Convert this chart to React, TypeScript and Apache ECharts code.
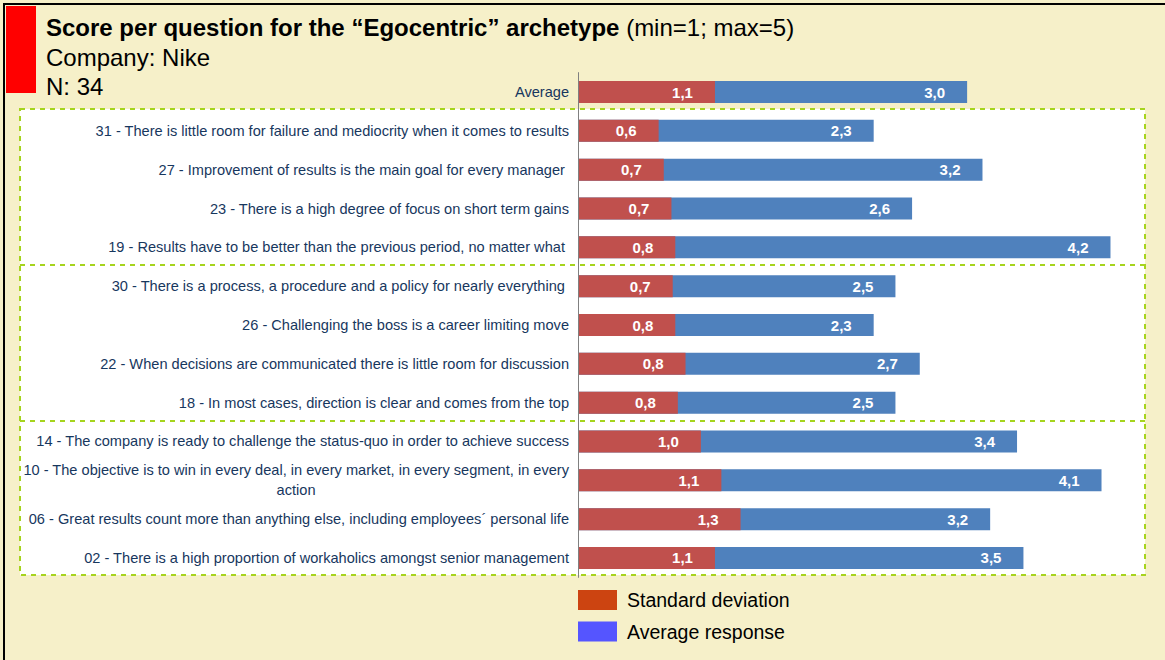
import React, { useEffect, useRef } from 'react';
import * as echarts from 'echarts';

const categories: string[] = [
  'Average',
  '31 - There is little room for failure and mediocrity when it comes to results',
  '27 - Improvement of results is the main goal for every manager ',
  '23 - There is a high degree of focus on short term gains',
  '19 - Results have to be better than the previous period, no matter what ',
  '30 - There is a process, a procedure and a policy for nearly everything ',
  '26 - Challenging the boss is a career limiting move',
  '22 - When decisions are communicated there is little room for discussion',
  '18 - In most cases, direction is clear and comes from the top',
  '14 - The company is ready to challenge the status-quo in order to achieve success',
  '10 - The objective is to win in every deal, in every market, in every segment, in every\naction',
  '06 - Great results count more than anything else, including employees´ personal life',
  '02 - There is a high proportion of workaholics amongst senior management',
];

const averageResponse: number[] = [3.04, 2.31, 3.16, 2.61, 4.16, 2.48, 2.31, 2.67, 2.48, 3.43, 4.09, 3.22, 3.48];
const standardDeviation: number[] = [1.07, 0.63, 0.67, 0.73, 0.76, 0.74, 0.76, 0.84, 0.78, 0.96, 1.12, 1.27, 1.07];

const seriesNames = { sd: 'Standard deviation', avg: 'Average response' };
const titleBold = 'Score per question for the “Egocentric” archetype';
const titleRest = ' (min=1; max=5)';
const subtitle1 = 'Company: Nike';
const subtitle2 = 'N: 34';

export default function App() {
  const ref = useRef<HTMLDivElement>(null);
  useEffect(() => {
    document.body.style.margin = '0';
    const chart = echarts.init(ref.current!, null, { renderer: 'svg' });
    const fmt = (p: any) => Number(p.value).toFixed(1).replace('.', ',');
    const sans = "'Liberation Sans', Arial, sans-serif";
    const labelColor = '#17375E';
    const green = '#A6D41E';
    const catSize = 14.6;
    const valueLabel = {
      show: true,
      position: 'insideRight',
      distance: 22,
      color: '#FFFFFF',
      fontWeight: 'bold',
      fontSize: 15,
      fontFamily: sans,
      formatter: fmt,
    };
    chart.setOption({
      animation: false,
      backgroundColor: '#F6F0C9',
      textStyle: { fontFamily: sans },
      grid: { left: 578, width: 576, top: 72.6, height: 504.8 },
      xAxis: { type: 'value', min: 0, max: 4.5, show: false },
      yAxis: {
        type: 'category',
        inverse: true,
        data: categories,
        z: 3,
        axisLine: { lineStyle: { color: '#808080', width: 1 } },
        axisTick: { show: false },
        splitLine: { show: false },
        axisLabel: {
          margin: 9,
          color: labelColor,
          fontFamily: sans,
          fontSize: catSize,
          formatter: (v: string) => {
            const lines = v.split('\n');
            if (lines.length === 1) return '{a|' + v + '}';
            return '{a|' + lines[0] + '}\n{c|' + lines[1] + '}';
          },
          rich: {
            a: { color: labelColor, fontFamily: sans, fontSize: catSize, lineHeight: 20 },
            c: { color: labelColor, fontFamily: sans, fontSize: catSize, lineHeight: 20, width: 540, align: 'center' },
          },
        },
      },
      legend: {
        orient: 'vertical',
        left: 578,
        top: 590,
        padding: 0,
        itemWidth: 39,
        itemHeight: 20,
        itemGap: 11.5,
        icon: 'rect',
        selectedMode: false,
        textStyle: { fontSize: 19.5, color: '#000000', fontFamily: sans, padding: [0, 0, 0, 5] },
        data: [
          { name: seriesNames.sd, itemStyle: { color: '#CC4411' } },
          { name: seriesNames.avg, itemStyle: { color: '#5555FF' } },
        ],
      },
      series: [
        {
          name: seriesNames.avg,
          type: 'bar',
          data: averageResponse,
          barWidth: 22,
          barGap: '-100%',
          itemStyle: { color: '#4F81BD' },
          label: valueLabel,
        },
        {
          name: seriesNames.sd,
          type: 'bar',
          data: standardDeviation,
          barWidth: 22,
          barGap: '-100%',
          itemStyle: { color: '#C0504D' },
          label: valueLabel,
        },
      ],
      graphic: [
        { type: 'rect', z: 0, shape: { x: 20, y: 109, width: 1125, height: 466 }, style: { fill: '#FFFFFF', stroke: green, lineWidth: 2, lineDash: [5, 5] } },
        { type: 'line', z: 0, shape: { x1: 20, y1: 265, x2: 1145, y2: 265 }, style: { stroke: green, lineWidth: 2, lineDash: [5, 5] } },
        { type: 'line', z: 0, shape: { x1: 20, y1: 421, x2: 1145, y2: 421 }, style: { stroke: green, lineWidth: 2, lineDash: [5, 5] } },
        { type: 'rect', z: 0, shape: { x: 4, y: 4, width: 1180, height: 680 }, style: { fill: 'none', stroke: '#000000', lineWidth: 2 } },
        { type: 'rect', z: 0, shape: { x: 6, y: 6, width: 30, height: 87 }, style: { fill: '#FF0000' } },
        {
          type: 'text', z: 1, x: 46, y: 27,
          style: {
            text: '{b|' + titleBold + '}' + titleRest,
            fill: '#000000', fontSize: 24, fontFamily: sans, verticalAlign: 'middle',
            rich: { b: { fill: '#000000', fontSize: 24, fontFamily: sans, fontWeight: 'bold' } },
          },
        },
        { type: 'text', z: 1, x: 46, y: 57, style: { text: subtitle1, fill: '#000000', fontSize: 24, fontFamily: sans, verticalAlign: 'middle' } },
        { type: 'text', z: 1, x: 46, y: 86, style: { text: subtitle2, fill: '#000000', fontSize: 24, fontFamily: sans, verticalAlign: 'middle' } },
      ],
    });
    return () => chart.dispose();
  }, []);
  return <div ref={ref} style={{ width: 1165, height: 660 }} />;
}
